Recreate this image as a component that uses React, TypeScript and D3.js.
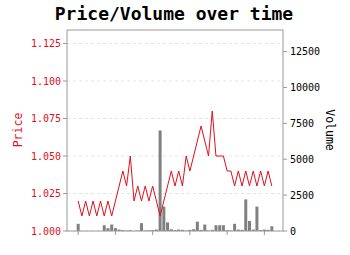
import React from "react";
import * as d3 from "d3";

const prices: number[] = [
  1.02, 1.01, 1.02, 1.01, 1.02, 1.01, 1.02, 1.01, 1.02, 1.01,
  1.02, 1.03, 1.04, 1.03, 1.05, 1.02, 1.03, 1.02, 1.03, 1.02,
  1.03, 1.02, 1.01, 1.02, 1.03, 1.04, 1.03, 1.04, 1.03, 1.05,
  1.04, 1.05, 1.06, 1.07, 1.06, 1.05, 1.08, 1.05, 1.05, 1.05,
  1.04, 1.04, 1.03, 1.04, 1.03, 1.04, 1.03, 1.04, 1.03, 1.04,
  1.03, 1.04, 1.03,
];

const volumes: number[] = [
  500, 0, 0, 0, 0, 0, 0, 400, 200, 450,
  200, 100, 60, 30, 60, 0, 30, 550, 30, 50,
  60, 100, 7000, 1700, 600, 120, 60, 100, 80, 30,
  80, 120, 650, 80, 450, 30, 80, 400, 400, 400,
  60, 30, 500, 100, 80, 2200, 700, 100, 1700, 60,
  100, 80, 330,
];

const priceTicks = [1.0, 1.025, 1.05, 1.075, 1.1, 1.125];
const volumeTicks = [0, 2500, 5000, 7500, 10000, 12500];
const xTicks = [0, 10, 20, 30, 40, 50];

const title = "Price/Volume over time";
const RED = "#e0101c";
const FONT = "DejaVu Sans Mono";

export default function App() {
  const W = 350, H = 255;
  const left = 67, right = 283, top = 30, bottom = 231;
  const x = d3.scaleLinear().domain([-3, 55]).range([left, right]);
  const yP = d3.scaleLinear().domain([1.0, d3.max(prices)! * 1.05]).range([bottom, top]);
  const yV = d3.scaleLinear().domain([0, d3.max(volumes)! * 2]).range([bottom, top]);
  const line = d3.line<number>().x((_, i) => x(i)).y((d) => yP(d));
  const barW = 3;

  return (
    <svg width={W} height={H} style={{ position: "absolute", left: 0, top: 0, background: "#fff" }}>
      <rect x={0} y={0} width={W} height={H} fill="#fff" />
      <text x={174} y={20} textAnchor="middle" fontFamily={FONT} fontWeight="bold" fontSize={18} fill="#000">
        {title}
      </text>
      {priceTicks.map((t) => (
        <line key={"g" + t} x1={left} x2={right} y1={yP(t)} y2={yP(t)} stroke="#ddd" strokeDasharray="3,3" strokeWidth={0.8} />
      ))}
      {volumes.map((v, i) => (
        <rect key={"b" + i} x={x(i) - barW / 2} y={yV(v)} width={barW} height={bottom - yV(v)} fill="#808080" />
      ))}
      <path d={line(prices)!} fill="none" stroke={RED} strokeWidth={1} />
      <rect x={left} y={top} width={right - left} height={bottom - top} fill="none" stroke="#999" strokeWidth={1} />
      {priceTicks.map((t) => (
        <g key={"p" + t}>
          <line x1={left - 4} x2={left} y1={yP(t)} y2={yP(t)} stroke="#999" />
          <text x={left - 6} y={yP(t) + 3.5} textAnchor="end" fontFamily={FONT} fontSize={10} fill={RED}>
            {d3.format(".3f")(t)}
          </text>
        </g>
      ))}
      {volumeTicks.map((t) => (
        <g key={"v" + t}>
          <line x1={right} x2={right + 4} y1={yV(t)} y2={yV(t)} stroke="#999" />
          <text x={right + 7} y={yV(t) + 3.5} textAnchor="start" fontFamily={FONT} fontSize={10} fill="#000">
            {t}
          </text>
        </g>
      ))}
      {xTicks.map((t) => (
        <line key={"x" + t} x1={x(t)} x2={x(t)} y1={bottom} y2={bottom + 4} stroke="#999" />
      ))}
      <text transform={`translate(22,130) rotate(-90)`} textAnchor="middle" fontFamily={FONT} fontSize={11.5} fill={RED}>
        Price
      </text>
      <text transform={`translate(326,130) rotate(90)`} textAnchor="middle" fontFamily={FONT} fontSize={11.5} fill="#000">
        Volume
      </text>
    </svg>
  );
}
